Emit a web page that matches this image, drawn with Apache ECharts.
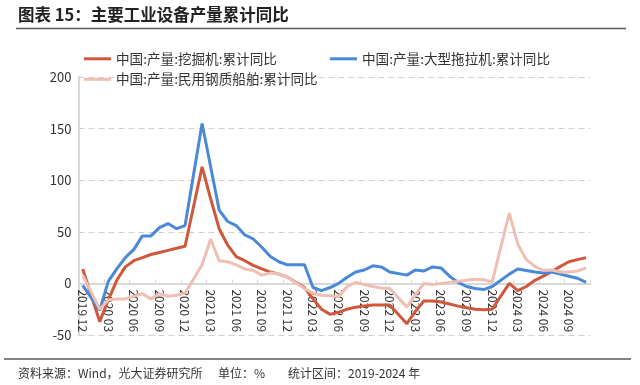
<!DOCTYPE html>
<html>
<head>
<meta charset="utf-8">
<script src="https://cdn.jsdelivr.net/npm/echarts@6/dist/echarts.min.js"></script>
<style>
html,body{margin:0;padding:0;background:#fff;}
#c{width:640px;height:385px;}
</style>
</head>
<body>
<div id="c"></div>
<script>
// categories (monthly, 2019-12 .. 2024-11); January values not published (null)
var categories = [
 '2019 12','2020 01','2020 02','2020 03','2020 04','2020 05','2020 06','2020 07','2020 08','2020 09','2020 10','2020 11','2020 12',
 '2021 01','2021 02','2021 03','2021 04','2021 05','2021 06','2021 07','2021 08','2021 09','2021 10','2021 11','2021 12',
 '2022 01','2022 02','2022 03','2022 04','2022 05','2022 06','2022 07','2022 08','2022 09','2022 10','2022 11','2022 12',
 '2023 01','2023 02','2023 03','2023 04','2023 05','2023 06','2023 07','2023 08','2023 09','2023 10','2023 11','2023 12',
 '2024 01','2024 02','2024 03','2024 04','2024 05','2024 06','2024 07','2024 08','2024 09','2024 10','2024 11'
];
var excavator = [
 14,null,-37,-16,3,16,22,25,28,30,32,34,36,
 null,113,82,53,37,26,22,17.5,14,11,9,6,
 null,-4,-15,-25,-30,-28,-25,-23,-22,-21,-21,-21,
 null,-39,-27,-17,-17,-18,-20,-22,-23.5,-25,-25.5,-25,
 null,0,-7,-3,3,7,11.5,16.5,21,23,25
];
var tractor = [
 -2,null,-26,2,14,25,33,46,46,54,58,53,56,
 null,155,113,71,60,56,47,43,35,26,21,18,
 null,18,-4,-7,-4,0,6,11,13,17,16,11,
 null,8,13,12,16,15,7,1,-3,-5,-6,-3,
 null,9,14,12.5,11,10,11,9,7,5,1
];
var ships = [
 8,null,-25,-16,-15,-15,-12.5,-10,-15,-10,-12.5,-11.5,-9.5,
 null,18,43,22,21,18,14,12.5,8,10,9,6,
 null,-5,-9.5,-11.5,-12,-13,-3,1,-1,-3,-4.5,-5,
 null,-23,-11,0,-1,0,1,2,3,4,3.5,1.5,
 null,68,38,23,16.5,12.5,13,11,11,12,15
];
var yTicks = {min:-50, max:200, interval:50};
var names = ['中国:产量:挖掘机:累计同比','中国:产量:大型拖拉机:累计同比','中国:产量:民用钢质船舶:累计同比'];
var colors = ['#D0573A','#4A88D8','#EFBFB3'];

var chart = echarts.init(document.getElementById('c'), null, {renderer:'canvas'});
var font = '"Noto Sans CJK SC","Noto Sans",sans-serif';
var gridTop = 77, gridBottom = 50, plotH = 385 - gridTop - gridBottom;
// move the category axis up to the zero line of the value axis
var zeroOffset = -plotH * (0 - yTicks.min) / (yTicks.max - yTicks.min);
function legend(name, left, top){
  return {data:[name], left:left, top:top, icon:'rect', itemWidth:27, itemHeight:3,
    textStyle:{fontFamily:font, fontSize:13.6, color:'#333'}, padding:0, itemGap:6};
}
chart.setOption({
  animation:false,
  textStyle:{fontFamily:font},
  grid:{left:78.4, right:49.7, top:gridTop, bottom:gridBottom, containLabel:false, outerBoundsMode:'none'},
  legend:[legend(names[0],84,52), legend(names[1],330,52), legend(names[2],84,72.5)],
  xAxis:{
    type:'category', data:categories, boundaryGap:true, offset:zeroOffset,
    axisLine:{onZero:false, lineStyle:{color:'#D9D9D9', width:2}},
    axisTick:{show:true, inside:true, length:4, interval:function(i){return i%3===0;}, lineStyle:{color:'#D9D9D9', width:1}},
    axisLabel:{interval:function(i){return i%3===0;}, rotate:-90, margin:6, fontSize:12, color:'#333', fontFamily:font},
    splitLine:{show:false}
  },
  yAxis:{
    type:'value', min:yTicks.min, max:yTicks.max, interval:yTicks.interval,
    axisLine:{show:true, lineStyle:{color:'#D9D9D9', width:2}},
    axisTick:{show:false},
    axisLabel:{margin:7, fontSize:13, color:'#333', fontFamily:font},
    splitLine:{show:true, lineStyle:{color:'#D0D0D0', type:[6,4], width:1}}
  },
  series:[
    {name:names[0], type:'line', data:excavator, connectNulls:true, showSymbol:false, symbol:'none', lineStyle:{width:3, color:colors[0]}, itemStyle:{color:colors[0]}},
    {name:names[1], type:'line', data:tractor, connectNulls:true, showSymbol:false, symbol:'none', lineStyle:{width:3, color:colors[1]}, itemStyle:{color:colors[1]}},
    {name:names[2], type:'line', data:ships, connectNulls:true, showSymbol:false, symbol:'none', lineStyle:{width:3, color:colors[2]}, itemStyle:{color:colors[2]}}
  ],
  graphic:[
    {type:'text', left:18, top:6, style:{text:'图表 15：主要工业设备产量累计同比', font:'bold 16.5px '+font, fill:'#222'}},
    {type:'line', shape:{x1:16, y1:28.5, x2:626, y2:28.5}, style:{stroke:'#595959', lineWidth:1.5}},
    {type:'line', shape:{x1:4, y1:359, x2:631, y2:359}, style:{stroke:'#595959', lineWidth:1.5}},
    {type:'text', left:18, top:367, style:{text:'资料来源：Wind，光大证券研究所', font:'12px '+font, fill:'#333'}},
    {type:'text', left:218, top:367, style:{text:'单位：%', font:'12px '+font, fill:'#333'}},
    {type:'text', left:288, top:367, style:{text:'统计区间：2019-2024 年', font:'12px '+font, fill:'#333'}}
  ]
});
</script>
</body>
</html>
